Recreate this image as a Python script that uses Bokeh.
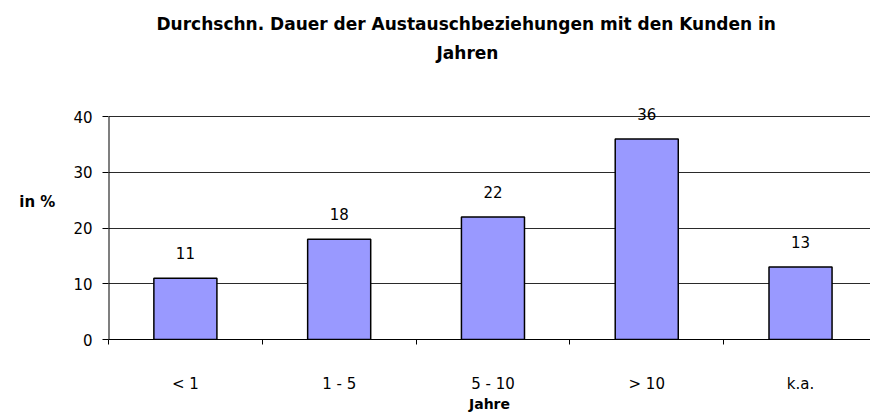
from bokeh.plotting import figure
from bokeh.models import Range1d, FixedTicker, LabelSet, ColumnDataSource, Title
from bokeh.core.properties import value
from bokeh.embed import file_html
from bokeh.resources import INLINE

categories = ["< 1", "1 - 5", "5 - 10", "> 10", "k.a."]
values = [11, 18, 22, 36, 13]
y_ticks = [0, 10, 20, 30, 40]
title_lines = ["Durchschn. Dauer der Austauschbeziehungen mit den Kunden in", "Jahren"]
x_title = "Jahre"
y_title = "in %"

FONT = "DejaVu Sans"

xs = [i + 0.5 for i in range(len(categories))]
src = ColumnDataSource(dict(x=xs, top=values, lab=[str(v) for v in values]))

p = figure(width=870, height=414, output_backend="svg", toolbar_location=None,
           x_range=Range1d(0, 4.955), y_range=Range1d(0, 43.08),
           min_border_left=108, min_border_right=0, min_border_top=99, min_border_bottom=74)
p.outline_line_color = None
p.background_fill_color = "white"
p.border_fill_color = "white"

p.vbar(x="x", top="top", width=0.41, bottom=0, source=src,
       fill_color="#9999FF", line_color="black", line_width=1.5)

# y axis line only from 0 to 40 (first to last tick)
p.segment(x0=[0], y0=[y_ticks[0]], x1=[0], y1=[y_ticks[-1]], line_color="black", line_width=2)

labels = LabelSet(x="x", y="top", text="lab", source=src, y_offset=19,
                  text_align="center", text_baseline="alphabetic",
                  text_font=value(FONT), text_font_size="15px", text_color="black")
p.add_layout(labels)

# x axis
xa = p.xaxis[0]
xa.ticker = FixedTicker(ticks=xs, minor_ticks=list(range(len(categories) + 1)))
xa.major_label_overrides = {x: c for x, c in zip(xs, categories)}
xa.major_tick_in = 0
xa.major_tick_out = 0
xa.major_tick_line_color = None
xa.minor_tick_in = 0
xa.minor_tick_out = 5
xa.minor_tick_line_color = "black"
xa.axis_line_color = "black"
xa.major_label_text_font = FONT
xa.major_label_text_font_size = "15px"
xa.major_label_text_color = "black"
xa.major_label_standoff = 30
xa.axis_label = x_title
xa.axis_label_text_font = FONT
xa.axis_label_text_font_style = "bold"
xa.axis_label_text_font_size = "14px"
xa.axis_label_text_color = "black"
xa.axis_label_standoff = 0

# y axis
ya = p.yaxis[0]
ya.ticker = FixedTicker(ticks=y_ticks, minor_ticks=[])
ya.major_tick_in = 0
ya.major_tick_out = 6
ya.major_tick_line_color = "black"
ya.axis_line_color = None
ya.major_label_text_font = FONT
ya.major_label_text_font_size = "15px"
ya.major_label_text_color = "black"
ya.major_label_standoff = 10
ya.axis_label = y_title + "\n\n"
ya.axis_label_orientation = "horizontal"
ya.axis_label_text_font = FONT
ya.axis_label_text_font_style = "bold"
ya.axis_label_text_font_size = "15px"
ya.axis_label_text_line_height = 0.95
ya.axis_label_text_color = "black"
ya.axis_label_standoff = 15

p.xgrid.grid_line_color = None
p.ygrid.grid_line_color = "#2a2a2a"
p.ygrid.grid_line_width = 1

# title: spacer nearest the frame, then line 2, then line 1 (outermost)
spacer = Title(text=" ", standoff=15, text_font=FONT, text_font_size="17px")
t2 = Title(text=title_lines[1], align="left", offset=328, standoff=0,
           text_font=FONT, text_font_style="bold", text_font_size="17px", text_color="black")
t1 = Title(text=title_lines[0], align="left", offset=48, standoff=14,
           text_font=FONT, text_font_style="bold", text_font_size="17px", text_color="black")
p.add_layout(spacer, "above")
p.add_layout(t2, "above")
p.add_layout(t1, "above")

open("out.html", "w").write(file_html(p, INLINE))
